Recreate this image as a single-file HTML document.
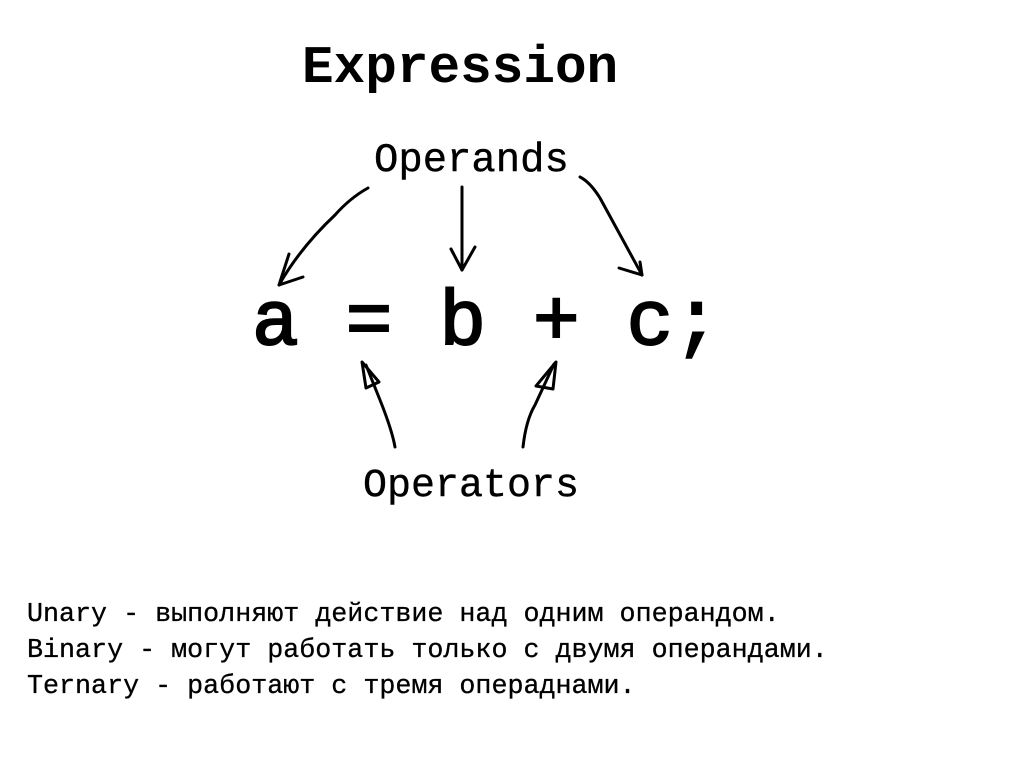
<!DOCTYPE html>
<html><head><meta charset="utf-8"><style>
html,body{margin:0;padding:0;background:#fff;}
svg{display:block;}
text{font-family:"Liberation Mono","DejaVu Sans Mono",monospace;fill:#000;}
</style></head><body>
<svg width="1018" height="782" viewBox="0 0 1018 782" xmlns="http://www.w3.org/2000/svg">
<rect width="1018" height="782" fill="#fff"/>
<text x="302" y="82" font-size="52.7" font-weight="bold">Expression</text>
<text x="374" y="171" font-size="40.6" stroke="#000" stroke-width="0.4">Operands</text>
<text x="252" y="344" font-size="78" stroke="#000" stroke-width="2">a = b + c;</text>
<text x="363" y="496" font-size="40" stroke="#000" stroke-width="0.4">Operators</text>
<text font-size="26.7" stroke="#000" stroke-width="0.3">
<tspan x="27" y="621">Unary - выполняют действие над одним операндом.</tspan>
<tspan x="27" y="657">Binary - могут работать только с двумя операндами.</tspan>
<tspan x="27" y="693">Ternary - работают с тремя операднами.</tspan>
</text>
<g fill="none" stroke="#000" stroke-width="3" stroke-linecap="round" stroke-linejoin="round">
<path d="M368,188 Q350,198 335,215 Q300,248 279,285"/>
<path d="M289,254 L279,285 L303,277"/>
<path d="M462,187 L462,270"/>
<path d="M451,249 L462,270 L475,247"/>
<path d="M580,177 Q590,182 600,198 Q620,235 642,275"/>
<path d="M619,268 L642,275 L640,262"/>
<path d="M395,447 Q392,430 380,400 L366,365"/>
<path d="M362,362 L379,382 L366,388 Z"/>
<path d="M523,447 Q526,420 535,405 L554,364"/>
<path d="M556,362 L536,386 L553,389 Z"/>
</g>
</svg>
</body></html>
